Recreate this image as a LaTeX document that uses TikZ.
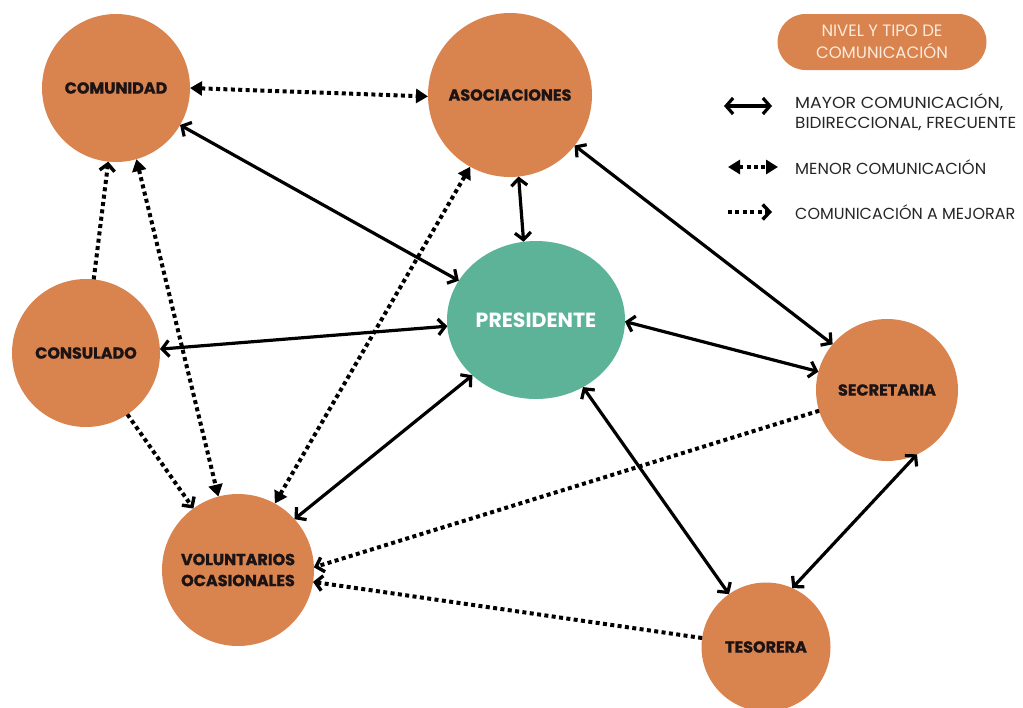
\documentclass[tikz,border=0pt]{standalone}
\usepackage{fontspec}
\usepackage{graphicx}
\setmainfont{Poppins}
\newfontfamily\heavyfont{Poppins}[BoldFeatures={FakeBold=1.2}]
\usetikzlibrary{arrows.meta,shapes.geometric}
\definecolor{orangeC}{HTML}{D9834F}
\definecolor{greenC}{HTML}{5DB397}
\definecolor{txt}{HTML}{1C1414}
\definecolor{legtxt}{HTML}{262626}
\definecolor{cream}{HTML}{FCEBDC}
\newcommand{\fitw}[2]{\resizebox{#1}{\height}{#2}}
\tikzset{
  circ/.style={circle, fill=orangeC, inner sep=0pt, outer sep=0pt, text=txt,
    font=\heavyfont\bfseries\fontsize{16}{21}\selectfont, align=center},
  strong/.style={line width=3.2pt,
    {Straight Barb[length=7pt,width=16pt]}-{Straight Barb[length=7pt,width=16pt]}},
  menor/.style={line width=4pt, dash pattern=on 4pt off 3.4pt,
    {Triangle[length=12pt,width=14pt]}-{Triangle[length=12pt,width=14pt]}},
  mejorar/.style={line width=4pt, dash pattern=on 4pt off 3.4pt,
    -{Straight Barb[length=7pt,width=15pt,line width=3.4pt]}},
  legtext/.style={anchor=west, inner sep=0pt, text=legtxt, font=\fontsize{16}{20}\selectfont, align=left}
}
\begin{document}
\begin{tikzpicture}[x=1pt,y=-1pt]
\useasboundingbox (0,0) rectangle (1023,707);

% nodes
\node[circ, minimum size=148pt] (com) at (116,88) {COMUNIDAD};
\node[circ, minimum size=164pt] (aso) at (510,95) {ASOCIACIONES};
\node[circ, minimum size=148pt] (cons) at (86,353) {CONSULADO};
\node[circ, minimum size=142pt] (sec) at (887,390) {SECRETARIA};
\node[circ, minimum size=152pt] (vol) at (238,570) {VOLUNTARIOS\\OCASIONALES};
\node[circ, minimum size=129pt] (tes) at (766,647) {TESORERA};
\node[ellipse, fill=greenC, inner sep=0pt, outer sep=0pt, minimum width=178pt, minimum height=158pt,
      text=white, font=\bfseries\fontsize{20.5}{24}\selectfont] (pres) at (536,320) {PRESIDENTE};

% connectors
\draw[menor] (com.0) -- (aso.181);
\draw[strong] (com.-30) -- (pres.153);
\draw[mejorar] (cons.84) -- (com.-96);
\draw[menor] (com.-74) -- (vol.105);
\draw[mejorar] (cons.-56) -- (vol.126);
\draw[strong] (cons.3) -- (pres.184);
\draw[menor] (vol.61) -- (aso.-119);
\draw[strong] (vol.42) -- (pres.221);
\draw[strong] (aso.-84) -- (pres.99);
\draw[strong] (aso.-38) -- (sec.140);
\draw[strong] (pres.-1) -- (sec.165);
\draw[mejorar] (sec.197) -- (vol.2);
\draw[mejorar] (tes.172) -- (vol.-9);
\draw[strong] (pres.-55) -- (tes.125);
\draw[strong] (sec.-65) -- (tes.66);

% legend
\node[rectangle, rounded corners=28pt, fill=orangeC, minimum width=209pt, minimum height=56pt,
      text=cream, font=\fontsize{16.5}{22}\selectfont, align=center] (title) at (882,42)
      {NIVEL Y TIPO DE\\COMUNICACIÓN};
\coordinate (l1a) at (724,106); \coordinate (l1b) at (772,106);
\coordinate (l2a) at (728,167); \coordinate (l2b) at (778,167);
\coordinate (l3a) at (728,212); \coordinate (l3b) at (772,212);
\draw[strong] (l1a) -- (l1b);
\draw[menor] (l2a) -- (l2b);
\draw[mejorar] (l3a) -- (l3b);
\node[legtext] (t1) at (795,112) {\fitw{208pt}{MAYOR COMUNICACIÓN,}\\\fitw{221pt}{BIDIRECCIONAL, FRECUENTE}};
\node[legtext] (t2) at (795,167) {\fitw{191pt}{MENOR COMUNICACIÓN}};
\node[legtext] (t3) at (795,212) {\fitw{220pt}{COMUNICACIÓN A MEJORAR}};
\end{tikzpicture}
\end{document}
